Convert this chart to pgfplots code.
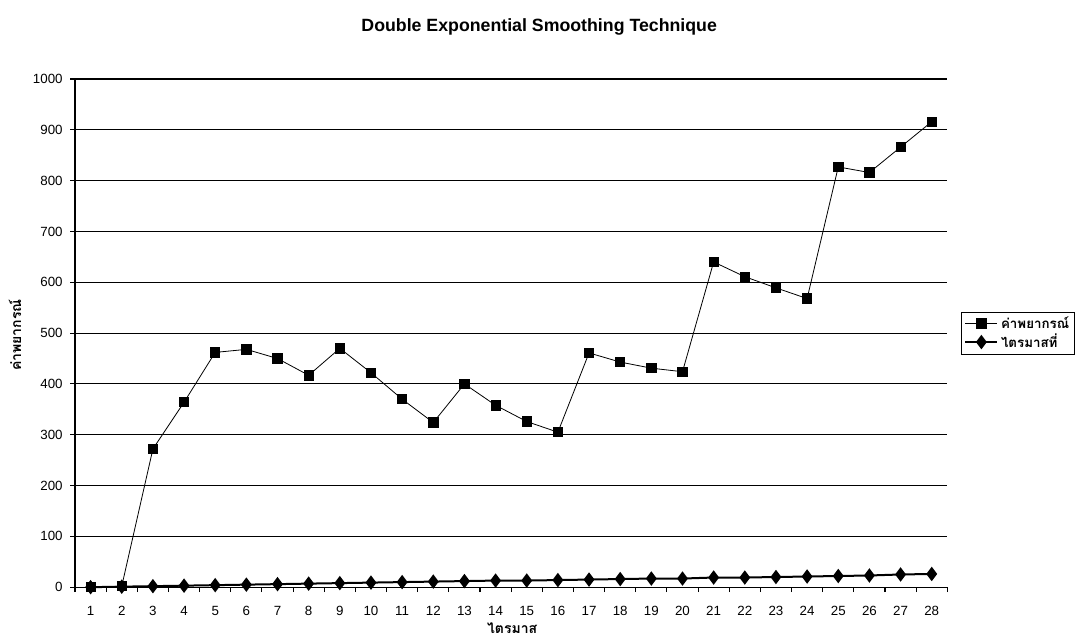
\documentclass[border=0pt]{standalone}
\usepackage{fontspec}
\setmainfont{Liberation Sans}
\newfontfamily\thaifont[Script=Thai]{Loma}
\usepackage{pgfplots}
\pgfplotsset{compat=1.18}
\begin{document}
\begin{tikzpicture}[x=1pt,y=1pt]
\path[use as bounding box] (-56.25pt,-42pt) rectangle (749.75pt,440.25pt);
\begin{axis}[
  at={(0,0)}, anchor=origin,
  scale only axis, width=654pt, height=381pt,
  xmin=0.5, xmax=28.5, ymin=0, ymax=1000,
  axis x line*=bottom, axis y line*=left,
  axis line style={black, line width=0.8pt},
  xtick={1,...,28}, major x tick style={draw=none},
  minor xtick={0.5,1.5,...,28.5},
  ytick={0,100,...,1000},
  tick align=outside, major tick length=3.75pt, minor tick length=3.75pt,
  tick style={black, line width=0.8pt},
  ymajorgrids, grid style={black, line width=0.8pt},
  /pgf/number format/assume math mode=true,
  /pgf/number format/1000 sep={},
  ticklabel style={font=\fontsize{10}{12}\selectfont},
  xticklabel style={yshift=-7pt},
  yticklabel style={xshift=-2pt},
  legend style={at={(664.5pt,206.25pt)}, anchor=north west, draw=black, line width=0.6pt,
    font=\thaifont\bfseries\fontsize{10}{12}\selectfont, cells={anchor=west},
    inner xsep=2pt, inner ysep=1pt, row sep=-1pt},
  legend image code/.code={\draw[mark repeat=2,mark phase=2] plot coordinates {(0pt,0pt) (12pt,0pt) (24pt,0pt)};},
  clip=false,
]
\addplot[black, line width=0.6pt, mark=square*, mark size=3.5pt, mark options={solid}] coordinates {
(1,0) (2,2) (3,272) (4,364) (5,462) (6,468) (7,450) (8,417) (9,470) (10,422)
(11,370) (12,324) (13,400) (14,358) (15,326) (16,305) (17,461) (18,443) (19,431) (20,424)
(21,640) (22,611) (23,589) (24,568) (25,827) (26,816) (27,866) (28,916)};
\addlegendentry{ค่าพยากรณ์}
\addplot[black, line width=1.5pt, mark=diamond*, mark size=4.2pt, mark options={solid}] coordinates {
(1,0) (2,1) (3,2) (4,3) (5,4) (6,5) (7,6) (8,7) (9,8) (10,9)
(11,10) (12,11) (13,12) (14,13) (15,13) (16,14) (17,15) (18,16) (19,17) (20,17)
(21,19) (22,19) (23,20) (24,21) (25,22) (26,23) (27,25) (28,26)};
\addlegendentry{ไตรมาสที่}
\end{axis}
\node[font=\bfseries\fontsize{13.3}{15}\selectfont] at (348pt,420pt) {Double Exponential Smoothing Technique};
\node[font=\thaifont\bfseries\fontsize{10.5}{12}\selectfont, rotate=90] at (-45pt,189pt) {ค่าพยากรณ์};
\node[font=\thaifont\bfseries\fontsize{10.5}{12}\selectfont, inner sep=0pt] at (327.75pt,-31pt) {ไตรมาส};
\end{tikzpicture}
\end{document}
